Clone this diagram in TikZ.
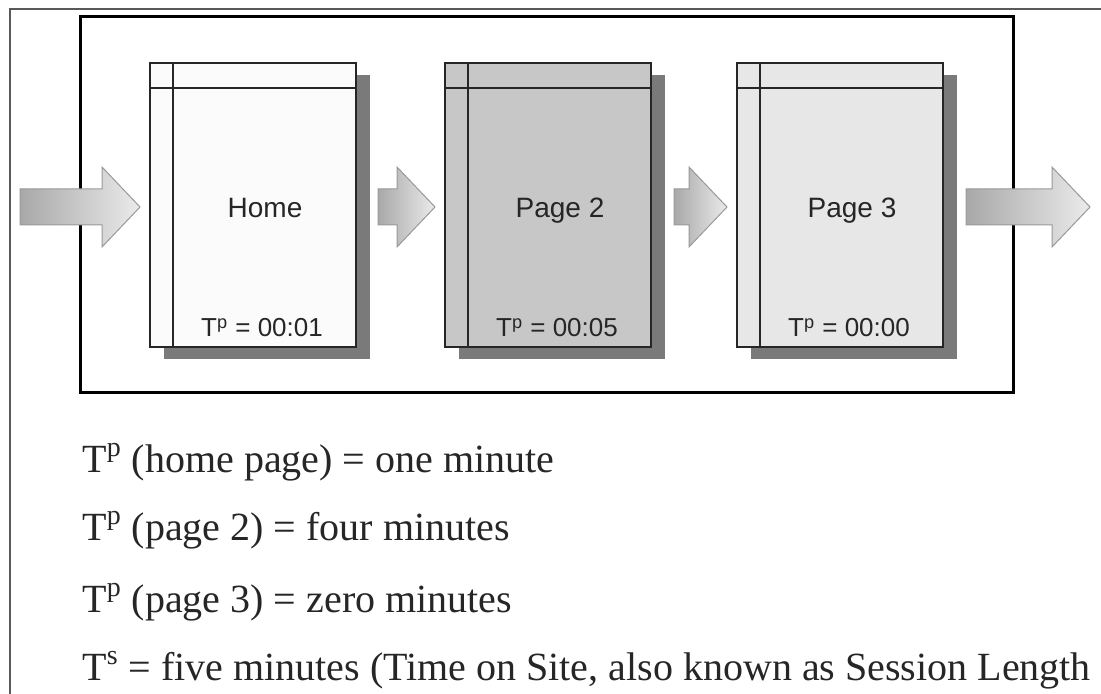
\documentclass[tikz,border=0pt]{standalone}
\usepackage{fontspec}
\setmainfont{Liberation Serif}
\newfontfamily\labelfont{Liberation Sans}
\usepackage{xcolor}
\usetikzlibrary{calc}
\usetikzlibrary{shadows}

\definecolor{framegray}{gray}{0.35}
\definecolor{shadowgray}{gray}{0.48}
\definecolor{homefill}{gray}{0.985}
\definecolor{page2fill}{gray}{0.78}
\definecolor{page3fill}{gray}{0.905}
\definecolor{arrowdark}{gray}{0.66}
\definecolor{arrowlight}{gray}{0.92}
\definecolor{arrowedge}{gray}{0.6}

\tikzset{
	pagebox/.style={draw=black!85, line width=1pt, outer sep=0pt,
		minimum width=103pt, minimum height=142pt,
		general shadow={fill=shadowgray, shadow xshift=7pt, shadow yshift=-6pt}},
	pageline/.style={draw=black!85, line width=1pt},
	pagetitle/.style={font=\labelfont\fontsize{14}{16}\selectfont, text=black!85, anchor=base},
	pagetime/.style={font=\labelfont\fontsize{13}{15}\selectfont, text=black!85, anchor=base},
	flowarrow/.style={left color=arrowdark, right color=arrowlight, draw=arrowedge, line width=0.5pt},
	note/.style={font=\fontsize{20}{24}\selectfont, text=black!85, anchor=base west, inner sep=0pt}
}

% block arrow from #1 (tail) to #2 (tip)
\newcommand{\pagearrow}[2]{%
	\shadedraw[flowarrow] let \p1=(#1), \p2=(#2) in
		(\x1,\y1+9pt) -- (\x2-19pt,\y1+9pt) -- (\x2-19pt,\y1+20pt) -- (\x2,\y1)
		-- (\x2-19pt,\y1-20pt) -- (\x2-19pt,\y1-9pt) -- (\x1,\y1-9pt) -- cycle;
}

\begin{document}
\begin{tikzpicture}[x=0.5pt, y=-0.5pt]
			\useasboundingbox (0,0) rectangle (1101,694);
			\fill[white] (0,0) rectangle (1101,694);
			\draw[framegray, line width=1.4pt] (1101,9) -- (10,9) -- (10,694);
			
			% session box
			\draw[line width=1.5pt] (80,17) rectangle (1013,393);
			
			% the pages of the visit
			\foreach \i/\x/\col/\title/\tp in {1/253/homefill/Home/01, 2/548/page2fill/Page 2/05, 3/840/page3fill/Page 3/00}{
				\node[pagebox, fill=\col] (page\i) at (\x,205) {};
				\draw[pageline] ([xshift=11.5pt]page\i.north west) -- ([xshift=11.5pt]page\i.south west);
				\draw[pageline] ([yshift=-12.5pt]page\i.north west) -- ([yshift=-12.5pt]page\i.north east);
				\node[pagetitle] (title\i) at ($(page\i.center)+(12,13)$) {\title};
				\node[pagetime] (time\i) at ($(page\i.center)+(9,132)$) {T\textsuperscript{p} = 00:\tp};
			}
			
			\coordinate (entry) at (20,207);
			\coordinate (exit) at (1090,207);
			\pagearrow{entry}{$(page1.west)+(-10,2)$}
			\pagearrow{$(page1.east)+(22,2)$}{$(page2.west)+(-10,2)$}
			\pagearrow{$(page2.east)+(23,2)$}{$(page3.west)+(-10,2)$}
			\pagearrow{$(page3.east)+(23,2)$}{exit}
			
			% time on page and time on site
			\node[note] (tp1) at (82,472) {T\textsuperscript{p} (home page) = one minute};
			\node[note] (tp2) at (82,540) {T\textsuperscript{p} (page 2) = four minutes};
			\node[note] (tp3) at (82,612) {T\textsuperscript{p} (page 3) = zero minutes};
			\node[note] (ts) at (82,680) {T\textsuperscript{s} = five minutes (Time on Site, also known as Session Length};
		\end{tikzpicture}
\end{document}
